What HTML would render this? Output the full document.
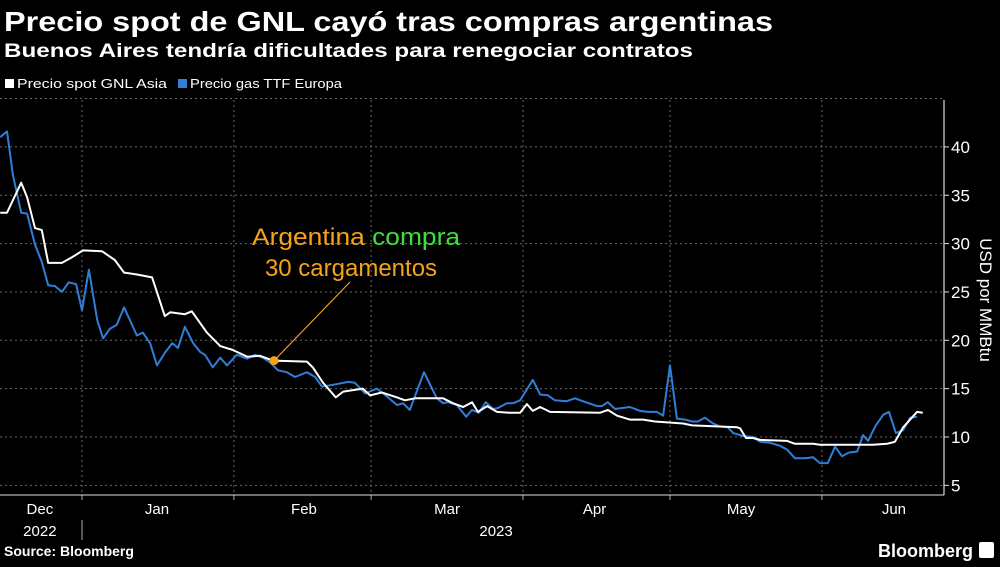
<!DOCTYPE html>
<html><head><meta charset="utf-8">
<style>
html,body{margin:0;padding:0;background:#000;}
body{width:1000px;height:562px;overflow:hidden;font-family:"Liberation Sans",sans-serif;color:#fff;}
svg text{font-family:"Liberation Sans Narrow","Liberation Sans",sans-serif;}
</style></head>
<body>
<svg id="chart" width="1000" height="562" viewBox="0 0 1000 562" xmlns="http://www.w3.org/2000/svg">
  <rect width="1000" height="562" fill="#000"/>
  <text x="4" y="31" fill="#fff" font-size="28" font-weight="bold" textLength="769" lengthAdjust="spacingAndGlyphs" style="font-family:'Liberation Sans',sans-serif">Precio spot de GNL cayó tras compras argentinas</text>
  <text x="4" y="57" fill="#fff" font-size="19" font-weight="bold" textLength="689" lengthAdjust="spacingAndGlyphs" style="font-family:'Liberation Sans',sans-serif">Buenos Aires tendría dificultades para renegociar contratos</text>
  <g>
    <g>
      <rect x="5" y="79" width="9" height="9" fill="#fff"/>
      <text x="17" y="88" font-size="13" fill="#fff" textLength="150" lengthAdjust="spacingAndGlyphs">Precio spot GNL Asia</text>
    </g>
    <g>
      <rect x="178" y="79" width="9" height="9" fill="#2f7fd8"/>
      <text x="190" y="88" font-size="13" fill="#fff" textLength="152" lengthAdjust="spacingAndGlyphs">Precio gas TTF Europa</text>
    </g>
  </g>
  <g id="grid"></g>
  <g id="axes"></g>
  <g id="series"></g>
  <g>
    <line id="annLine" stroke="#f5a31a" stroke-width="1.2"/>
    <circle id="annDot" r="4.5" fill="#f5a31a"/>
    <text x="356" y="245" text-anchor="middle" font-size="24" fill="#f5a31a" textLength="208" lengthAdjust="spacingAndGlyphs">Argentina <tspan fill="#3be03b">compra</tspan></text>
    <text x="351" y="276" text-anchor="middle" font-size="24" fill="#f5a31a">30 cargamentos</text>
  </g>
  <text transform="translate(980,300) rotate(90)" text-anchor="middle" font-size="17" fill="#fff">USD por MMBtu</text>
  <text x="4" y="556" font-size="14" font-weight="bold" fill="#fff" style="font-family:'Liberation Sans',sans-serif">Source: Bloomberg</text>
  <text x="973" y="557" text-anchor="end" font-size="18" font-weight="bold" fill="#fff" style="font-family:'Liberation Sans',sans-serif">Bloomberg</text>
  <rect x="979" y="542" width="15" height="16" rx="2" fill="#fff"/>
</svg>
<script>
// ---- data (days since 2023-01-01) ----
const asiaDays = [-16.7,-15.3,-12.4,-11.2,-9.6,-8.2,-6.9,-4.1,-2.0,0.2,4.1,6.7,8.6,11.2,14.3,16.9,18.0,21.0,22.4,25.5,28.2,30.8,33.7,36.3,39.0,45.9,47.1,49.2,51.8,53.3,57.3,58.8,61.2,64.3,65.9,68.0,73.7,75.7,77.8,79.6,80.8,82.7,84.7,87.3,89.4,90.8,92.0,93.5,95.5,105.7,107.3,109.2,111.8,114.5,116.9,122.7,124.5,133.7,134.3,135.5,136.9,138.4,143.9,145.5,149.2,150.6,161.4,164.3,165.9,167.6,170.4,171.6];
const asiaValues = [33.2,33.2,36.3,34.8,31.6,31.4,28.0,28.0,28.6,29.3,29.2,28.3,27.0,26.8,26.5,22.5,22.9,22.7,23.0,20.8,19.4,19.0,18.3,18.4,17.9,17.8,17.2,15.6,14.1,14.7,15.0,14.3,14.6,14.1,13.8,14.0,14.0,13.5,13.1,13.6,12.6,13.2,12.6,12.5,12.5,13.4,12.7,13.1,12.6,12.5,12.8,12.2,11.8,11.8,11.6,11.4,11.2,11.0,10.9,9.9,9.9,9.7,9.6,9.3,9.3,9.2,9.2,9.3,9.5,11.0,12.6,12.5];
const ttfDays = [-16.7,-15.3,-14.1,-12.4,-11.2,-9.6,-8.2,-6.9,-5.5,-4.1,-2.7,-1.2,0,1.4,3.1,4.3,5.7,7.1,8.6,11.2,12.4,13.9,15.3,16.9,18.4,19.6,21.0,22.7,24.1,25.1,26.7,28.2,29.6,31.6,33.7,35.3,36.9,38.4,40.0,41.8,43.5,45.9,47.6,49.0,51.2,54.3,55.7,57.8,60.2,62.2,64.3,65.5,66.9,69.8,72.4,73.7,74.7,76.5,78.4,79.6,81.0,82.4,83.9,84.9,86.7,88.0,89.4,92.0,93.5,95.1,96.5,98.9,100.6,102.2,105.1,106.1,107.3,108.8,111.8,113.9,115.5,117.3,118.6,120.0,121.4,123.1,124.5,125.7,127.1,128.8,130.2,131.8,132.9,134.9,136.9,138.4,140.4,142.4,143.9,145.5,147.6,149.2,150.6,152.2,153.7,155.1,156.5,158.2,159.4,160.4,162.0,163.5,164.7,166.1,167.6,169.0,170.4,171.6];
const ttfValues = [41.0,41.6,37.1,33.2,33.1,29.9,28.1,25.7,25.6,25.0,26.0,25.8,23.1,27.3,22.1,20.2,21.2,21.6,23.4,20.5,20.8,19.7,17.4,18.7,19.7,19.2,21.4,19.7,18.8,18.5,17.2,18.2,17.4,18.5,18.1,18.5,18.2,17.7,16.9,16.7,16.2,16.7,16.2,15.2,15.4,15.7,15.6,14.5,15.0,14.2,13.3,13.5,12.8,16.7,14.0,13.5,13.6,13.3,12.1,12.8,12.5,13.6,12.9,13.0,13.5,13.5,13.8,15.9,14.4,14.3,13.8,13.7,14.0,13.7,13.2,13.2,13.6,12.9,13.1,12.7,12.6,12.6,12.2,17.4,11.9,11.8,11.6,11.6,12.0,11.4,11.1,11.0,10.4,10.1,10.0,9.5,9.4,9.1,8.7,7.8,7.8,7.9,7.3,7.3,9.0,8.0,8.4,8.5,10.2,9.6,11.2,12.3,12.6,10.4,10.7,12.0,12.1];
const yTicks = [5,10,15,20,25,30,35,40];
const yGrid = [5,10,15,20,25,30,35,40,45];
const monthStarts = [0,31,59,90,120,151];
const monthLabels = ["Dec","Jan","Feb","Mar","Apr","May","Jun"];
const monthLabelDays = [-8.6,15.3,45.3,74.5,104.6,134.5,165.7];
const annotationDay = 39.2;
const annotationValue = 17.9;

// ---- scales ----
const X0 = 82, PX_PER_DAY = 4.9;
const x = d => X0 + d * PX_PER_DAY;
const y = v => 437 - (v - 10) * 9.67;
const NS = "http://www.w3.org/2000/svg";
function mk(tag, attrs, parent){ const e=document.createElementNS(NS,tag); for(const k in attrs) e.setAttribute(k,attrs[k]); parent.appendChild(e); return e; }

const grid = document.getElementById('grid');
const axes = document.getElementById('axes');
const series = document.getElementById('series');
const PLOT_R = 944, PLOT_B = 495;

yGrid.forEach(v => {
  const l = mk('line',{x1:0,x2:PLOT_R,y1:y(v),y2:y(v),stroke:'#6a6a6a','stroke-width':1,'stroke-dasharray':'2,3'},grid);
  
  
});
monthStarts.forEach(d => {
  const l = mk('line',{x1:x(d),x2:x(d),y1:100,y2:PLOT_B,stroke:'#6a6a6a','stroke-width':1,'stroke-dasharray':'2,3'},grid);
  
  
  const t = mk('line',{x1:x(d),x2:x(d),y1:PLOT_B,y2:PLOT_B+5,stroke:'#aaa','stroke-width':1},axes);
  
  
});
const xa = mk('line',{x1:0,x2:PLOT_R,y1:PLOT_B,y2:PLOT_B,stroke:'#ddd','stroke-width':1},axes);


const ya = mk('line',{x1:PLOT_R,x2:PLOT_R,y1:100,y2:PLOT_B,stroke:'#ddd','stroke-width':1.2},axes);


yTicks.forEach(v => {
  const t = mk('line',{x1:PLOT_R,x2:PLOT_R+5,y1:y(v),y2:y(v),stroke:'#ddd','stroke-width':1},axes);
  
  
  const tx = mk('text',{x:PLOT_R+7,y:y(v)+6,'font-size':17,fill:'#fff'},axes);
  tx.textContent = v;
  
  
});
monthLabels.forEach((m,i) => {
  const t = mk('text',{x:x(monthLabelDays[i]),y:514,'font-size':15,fill:'#fff','text-anchor':'middle'},axes);
  t.textContent = m;
  
  
});
const y1 = mk('text',{x:x(monthLabelDays[0]),y:536,'font-size':15,fill:'#fff','text-anchor':'middle'},axes);
y1.textContent = '2022';


const y2 = mk('text',{x:x(84.5),y:536,'font-size':15,fill:'#fff','text-anchor':'middle'},axes);
y2.textContent = '2023';


const ys = mk('line',{x1:x(0),x2:x(0),y1:520,y2:540,stroke:'#aaa','stroke-width':1},axes);



function path(days, vals){
  const n = Math.min(days.length, vals.length);
  let d = '';
  for(let i=0;i<n;i++) d += (i?'L':'M') + x(days[i]).toFixed(1) + ',' + y(vals[i]).toFixed(1);
  return d;
}
const pTtf = mk('path',{d:path(ttfDays,ttfValues),fill:'none',stroke:'#2f7fd8','stroke-width':2,'stroke-linejoin':'round'},series);


const pAsia = mk('path',{d:path(asiaDays,asiaValues),fill:'none',stroke:'#ffffff','stroke-width':2,'stroke-linejoin':'round'},series);



const ax = x(annotationDay), ay = y(annotationValue);
const dot = document.getElementById('annDot');
dot.setAttribute('cx', ax); dot.setAttribute('cy', ay);
const ln = document.getElementById('annLine');
ln.setAttribute('x1', ax); ln.setAttribute('y1', ay);
ln.setAttribute('x2', 350); ln.setAttribute('y2', 282);
</script>
</body></html>
